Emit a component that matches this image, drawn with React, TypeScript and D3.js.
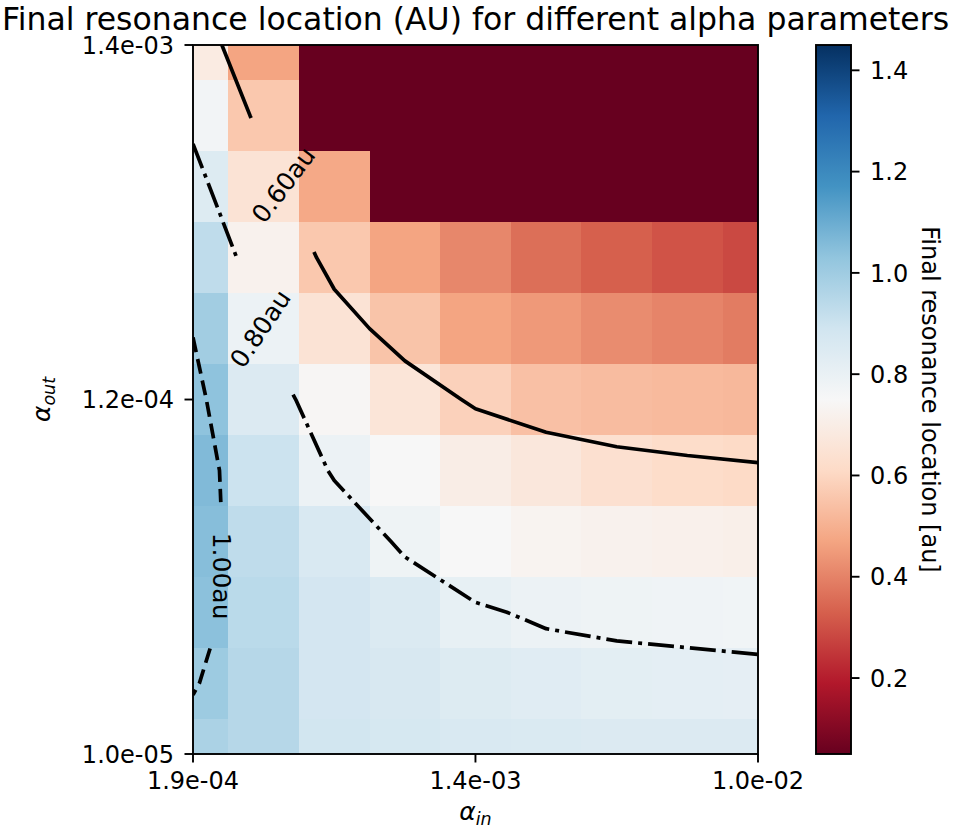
import React from "react";
import * as d3 from "d3";

// alpha_in values (x, columns, left -> right)
const alphaIn = [1.9e-4, 3.118e-4, 5.118e-4, 8.4e-4, 1.378e-3, 2.262e-3, 3.712e-3, 6.092e-3, 1.0e-2];
// alpha_out values (y, rows, top -> bottom)
const alphaOut = [1.4e-3, 8.541e-4, 5.21e-4, 3.179e-4, 1.939e-4, 1.183e-4, 7.218e-5, 4.404e-5, 2.687e-5, 1.639e-5, 1.0e-5];

// Final resonance location [au], one array per alpha_out row (top -> bottom)
const row0 = [0.69, 0.47, 0.05, 0.05, 0.05, 0.05, 0.05, 0.05, 0.05];
const row1 = [0.77, 0.56, 0.05, 0.05, 0.05, 0.05, 0.05, 0.05, 0.05];
const row2 = [0.846, 0.65, 0.48, 0.05, 0.05, 0.05, 0.05, 0.05, 0.05];
const row3 = [0.93, 0.72, 0.56, 0.47, 0.41, 0.36, 0.33, 0.305, 0.285];
const row4 = [0.995, 0.79, 0.65, 0.55, 0.47, 0.445, 0.42, 0.403, 0.386];
const row5 = [1.035, 0.85, 0.74, 0.66, 0.585, 0.54, 0.53, 0.525, 0.52];
const row6 = [1.06, 0.9, 0.79, 0.75, 0.7, 0.67, 0.635, 0.62, 0.61];
const row7 = [1.05, 0.93, 0.86, 0.785, 0.75, 0.73, 0.72, 0.715, 0.71];
const row8 = [1.04, 0.94, 0.88, 0.853, 0.808, 0.79, 0.785, 0.78, 0.775];
const row9 = [1.005, 0.95, 0.88, 0.865, 0.845, 0.833, 0.822, 0.82, 0.817];
const row10 = [0.975, 0.95, 0.885, 0.87, 0.86, 0.855, 0.85, 0.85, 0.85];
const resonance = [row0, row1, row2, row3, row4, row5, row6, row7, row8, row9, row10];

// contours
const contourLevels = [0.6, 0.8, 1.0];
const contourLabels = ["0.60au", "0.80au", "1.00au"];
const contourDash = ["", "26 6 4 6", "15 7"];
const labelCol = [1.22, 0.95, 0.34];
const labelRow = [2.0, 4.0, 7.49];
const labelRotation = [-53, -56, 90];

// ticks
const xTickIndex = [0, 4, 8];
const yTickIndex = [10, 5, 0];
const colorbarTicks = [0.2, 0.4, 0.6, 0.8, 1.0, 1.2, 1.4];
const vmin = 0.05;
const vmax = 1.45;
const rdbuColors = ["#67001f", "#b2182b", "#d6604d", "#f4a582", "#fddbc7", "#f7f7f7", "#d1e5f0", "#92c5de", "#4393c3", "#2166ac", "#053061"];

type Pt = [number, number];

function fmtExp(v: number): string {
  const s = v.toExponential(1);
  const [m, e] = s.split("e");
  const n = parseInt(e, 10);
  const sign = n < 0 ? "-" : "+";
  return `${m}e${sign}${String(Math.abs(n)).padStart(2, "0")}`;
}

function contourPolylines(grid: number[][], level: number, px: (i: number) => number, py: (j: number) => number): Pt[][] {
  const ny = grid.length, nx = grid[0].length;
  const pts = new Map<string, Pt>();
  const adj = new Map<string, string[]>();
  const above = (v: number) => v >= level;
  const cross = (u: number, v: number) => above(u) !== above(v);
  const hEdge = (j: number, i: number) => {
    const k = `h${j}_${i}`;
    if (!pts.has(k)) {
      const a = grid[j][i], b = grid[j][i + 1];
      const t = (level - a) / (b - a);
      pts.set(k, [px(i) + t * (px(i + 1) - px(i)), py(j)]);
    }
    return k;
  };
  const vEdge = (j: number, i: number) => {
    const k = `v${j}_${i}`;
    if (!pts.has(k)) {
      const a = grid[j][i], b = grid[j + 1][i];
      const t = (level - a) / (b - a);
      pts.set(k, [px(i), py(j) + t * (py(j + 1) - py(j))]);
    }
    return k;
  };
  const link = (p: string, q: string) => {
    if (!adj.has(p)) adj.set(p, []);
    if (!adj.has(q)) adj.set(q, []);
    adj.get(p)!.push(q);
    adj.get(q)!.push(p);
  };
  for (let j = 0; j < ny - 1; j++) {
    for (let i = 0; i < nx - 1; i++) {
      const a = grid[j][i], b = grid[j][i + 1], c = grid[j + 1][i + 1], d = grid[j + 1][i];
      const top = cross(a, b) ? hEdge(j, i) : null;
      const right = cross(b, c) ? vEdge(j, i + 1) : null;
      const bottom = cross(d, c) ? hEdge(j + 1, i) : null;
      const left = cross(a, d) ? vEdge(j, i) : null;
      const es = [top, right, bottom, left].filter((e) => e !== null) as string[];
      if (es.length === 2) link(es[0], es[1]);
      else if (es.length === 4) {
        const center = (a + b + c + d) / 4;
        if (above(center) === above(a)) {
          link(top!, right!);
          link(bottom!, left!);
        } else {
          link(left!, top!);
          link(right!, bottom!);
        }
      }
    }
  }
  const visited = new Set<string>();
  const lines: Pt[][] = [];
  const walk = (start: string) => {
    const line: Pt[] = [];
    let cur: string | null = start;
    let prev: string | null = null;
    while (cur && !visited.has(cur)) {
      visited.add(cur);
      line.push(pts.get(cur)!);
      const nb = adj.get(cur)!.filter((n) => n !== prev && !visited.has(n));
      prev = cur;
      cur = nb.length ? nb[0] : null;
    }
    return line;
  };
  for (const [k, nb] of adj) if (nb.length === 1 && !visited.has(k)) lines.push(walk(k));
  for (const k of adj.keys()) if (!visited.has(k)) {
    const l = walk(k);
    l.push(l[0]);
    lines.push(l);
  }
  return lines;
}

function cumLengths(line: Pt[]): number[] {
  const c = [0];
  for (let k = 1; k < line.length; k++) c.push(c[k - 1] + Math.hypot(line[k][0] - line[k - 1][0], line[k][1] - line[k - 1][1]));
  return c;
}

function pointAt(line: Pt[], cum: number[], s: number): Pt {
  for (let k = 1; k < line.length; k++) {
    if (s <= cum[k]) {
      const t = (s - cum[k - 1]) / (cum[k] - cum[k - 1] || 1);
      return [line[k - 1][0] + t * (line[k][0] - line[k - 1][0]), line[k - 1][1] + t * (line[k][1] - line[k - 1][1])];
    }
  }
  return line[line.length - 1];
}

function slicePath(line: Pt[], cum: number[], sa: number, sb: number): Pt[] {
  const out: Pt[] = [];
  if (sb <= sa) return out;
  out.push(pointAt(line, cum, sa));
  for (let k = 0; k < line.length; k++) if (cum[k] > sa && cum[k] < sb) out.push(line[k]);
  out.push(pointAt(line, cum, sb));
  return out;
}

function nearestArc(line: Pt[], cum: number[], p: Pt): { s: number; d: number } {
  let best = { s: 0, d: Infinity };
  for (let k = 1; k < line.length; k++) {
    const [ax, ay] = line[k - 1], [bx, by] = line[k];
    const dx = bx - ax, dy = by - ay;
    const L2 = dx * dx + dy * dy || 1;
    let t = ((p[0] - ax) * dx + (p[1] - ay) * dy) / L2;
    t = Math.max(0, Math.min(1, t));
    const qx = ax + t * dx, qy = ay + t * dy;
    const d = Math.hypot(p[0] - qx, p[1] - qy);
    if (d < best.d) best = { s: cum[k - 1] + t * Math.sqrt(L2), d };
  }
  return best;
}

export default function App() {
  const W = 953, H = 830;
  const plot = { left: 193, right: 758, top: 45, bottom: 754 };
  const cb = { left: 816, right: 851, top: 45, bottom: 754 };
  const font = "'DejaVu Sans', sans-serif";
  const tickFs = 24;
  const lw = 1.9;
  const tickLen = 8.5;
  const gap = 148;

  const x = d3.scaleLog().domain([alphaIn[0], alphaIn[alphaIn.length - 1]]).range([plot.left, plot.right]);
  const y = d3.scaleLog().domain([alphaOut[alphaOut.length - 1], alphaOut[0]]).range([plot.bottom, plot.top]);
  const stops = rdbuColors.map((_, k) => vmin + ((vmax - vmin) * k) / (rdbuColors.length - 1));
  const color = d3.scaleLinear<string>().domain(stops).range(rdbuColors).interpolate(d3.interpolateRgb).clamp(true);
  const cbY = d3.scaleLinear().domain([vmin, vmax]).range([cb.bottom, cb.top]);

  const nx = alphaIn.length, ny = alphaOut.length;
  const xEdge = (i: number) => (i <= 0 ? plot.left : i >= nx ? plot.right : x(Math.sqrt(alphaIn[i - 1] * alphaIn[i])));
  const yEdge = (j: number) => (j <= 0 ? plot.top : j >= ny ? plot.bottom : y(Math.sqrt(alphaOut[j - 1] * alphaOut[j])));
  const px = (i: number) => x(alphaIn[i]);
  const py = (j: number) => y(alphaOut[j]);
  const fracPos = (f: number, fn: (i: number) => number, n: number) => {
    const i0 = Math.max(0, Math.min(n - 2, Math.floor(f)));
    return fn(i0) + (f - i0) * (fn(i0 + 1) - fn(i0));
  };

  const lineGen = d3.line<Pt>().x((d) => d[0]).y((d) => d[1]);

  const contourEls: React.ReactNode[] = [];
  const labelEls: React.ReactNode[] = [];
  contourLevels.forEach((lev, li) => {
    const lines = contourPolylines(resonance, lev, px, py);
    const target: Pt = [fracPos(labelCol[li], px, nx), fracPos(labelRow[li], py, ny)];
    let bestLine = -1, bestS = 0, bestD = Infinity;
    lines.forEach((l, k) => {
      const c = cumLengths(l);
      const r = nearestArc(l, c, target);
      if (r.d < bestD) { bestD = r.d; bestS = r.s; bestLine = k; }
    });
    lines.forEach((l, k) => {
      const c = cumLengths(l);
      const pieces: Pt[][] = [];
      if (k === bestLine) {
        pieces.push(slicePath(l, c, 0, bestS - gap / 2));
        pieces.push(slicePath(l, c, bestS + gap / 2, c[c.length - 1]));
        const p = pointAt(l, c, bestS);
        labelEls.push(
          <text key={`lab${li}`} transform={`translate(${p[0]},${p[1]}) rotate(${labelRotation[li]})`} textAnchor="middle" dy="0.36em" fontFamily={font} fontSize={25} fill="#000">
            {contourLabels[li]}
          </text>
        );
      } else pieces.push(l);
      pieces.forEach((pc, m) => {
        if (pc.length < 2) return;
        contourEls.push(
          <path key={`c${li}_${k}_${m}`} d={lineGen(pc) || ""} fill="none" stroke="#000" strokeWidth={3.7} strokeDasharray={contourDash[li] || undefined} strokeLinejoin="round" />
        );
      });
    });
  });

  return (
    <svg width={W} height={H} style={{ position: "absolute", left: 0, top: 0, background: "#fff" }} fontFamily={font}>
      <defs>
        <clipPath id="plotClip">
          <rect x={plot.left} y={plot.top} width={plot.right - plot.left} height={plot.bottom - plot.top} />
        </clipPath>
        <linearGradient id="cbGrad" x1="0" y1="1" x2="0" y2="0">
          {rdbuColors.map((c, k) => (
            <stop key={k} offset={`${(k / (rdbuColors.length - 1)) * 100}%`} stopColor={c} />
          ))}
        </linearGradient>
      </defs>
      <rect x={0} y={0} width={W} height={H} fill="#fff" />

      {/* title */}
      <text x={(plot.left + plot.right) / 2} y={30} textAnchor="middle" fontSize={31.5} fill="#000">
        Final resonance location (AU) for different alpha parameters
      </text>

      {/* heatmap */}
      <g shapeRendering="crispEdges">
        {resonance.map((row, j) =>
          row.map((v, i) => (
            <rect key={`${j}_${i}`} x={xEdge(i)} y={yEdge(j)} width={xEdge(i + 1) - xEdge(i)} height={yEdge(j + 1) - yEdge(j)} fill={color(v)} />
          ))
        )}
      </g>

      {/* contours */}
      <g clipPath="url(#plotClip)">{contourEls}</g>
      {labelEls}

      {/* spines */}
      <rect x={plot.left} y={plot.top} width={plot.right - plot.left} height={plot.bottom - plot.top} fill="none" stroke="#000" strokeWidth={lw} />

      {/* x ticks */}
      {xTickIndex.map((i) => (
        <g key={`xt${i}`} transform={`translate(${px(i)},${plot.bottom})`}>
          <line y1={0} y2={tickLen} stroke="#000" strokeWidth={lw} />
          <text y={35} textAnchor="middle" fontSize={tickFs} fill="#000">{fmtExp(alphaIn[i])}</text>
        </g>
      ))}
      {/* y ticks */}
      {yTickIndex.map((j) => (
        <g key={`yt${j}`} transform={`translate(${plot.left},${py(j)})`}>
          <line x1={0} x2={-tickLen} stroke="#000" strokeWidth={lw} />
          <text x={-19} dy="0.36em" textAnchor="end" fontSize={tickFs} fill="#000">{fmtExp(alphaOut[j])}</text>
        </g>
      ))}

      {/* axis labels */}
      <text x={(plot.left + plot.right) / 2} y={820} textAnchor="middle" fill="#000">
        <tspan fontSize={25} fontStyle="italic">α</tspan>
        <tspan fontSize={17.5} fontStyle="italic" dy={5}>in</tspan>
      </text>
      <text transform={`translate(50,${(plot.top + plot.bottom) / 2}) rotate(-90)`} textAnchor="middle" fill="#000">
        <tspan fontSize={25} fontStyle="italic">α</tspan>
        <tspan fontSize={17.5} fontStyle="italic" dy={5}>out</tspan>
      </text>

      {/* colorbar */}
      <rect x={cb.left} y={cb.top} width={cb.right - cb.left} height={cb.bottom - cb.top} fill="url(#cbGrad)" />
      <rect x={cb.left} y={cb.top} width={cb.right - cb.left} height={cb.bottom - cb.top} fill="none" stroke="#000" strokeWidth={lw} />
      {colorbarTicks.map((t) => (
        <g key={`cb${t}`} transform={`translate(${cb.right},${cbY(t)})`}>
          <line x1={0} x2={tickLen} stroke="#000" strokeWidth={lw} />
          <text x={19} dy="0.36em" fontSize={tickFs} fill="#000">{t.toFixed(1)}</text>
        </g>
      ))}
      <text transform={`translate(922,${(cb.top + cb.bottom) / 2}) rotate(90)`} textAnchor="middle" fontSize={tickFs} fill="#000">
        Final resonance location [au]
      </text>
    </svg>
  );
}
